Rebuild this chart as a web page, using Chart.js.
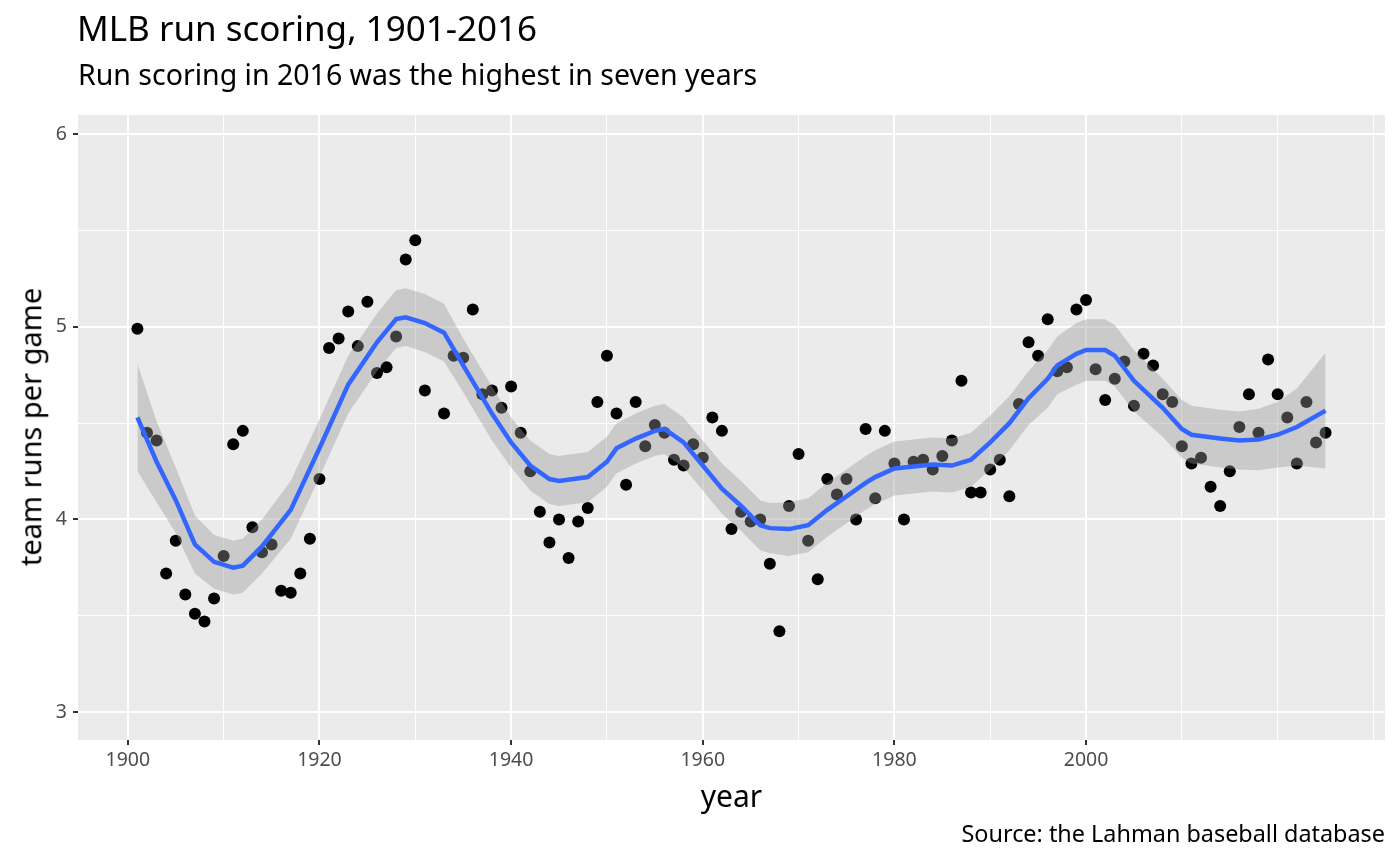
<!DOCTYPE html>
<html><head><meta charset="utf-8">
<script src="https://cdn.jsdelivr.net/npm/chart.js@4"></script>
<style>
body{margin:0;background:#fff;font-family:"Noto Sans",sans-serif;}
#wrap{position:relative;width:1400px;height:865px;}
canvas{position:absolute;left:0;top:0;}
.t{position:absolute;white-space:nowrap;color:#000;line-height:1.36;}
</style></head><body>
<div id="wrap">
<canvas id="c" width="1400" height="865"></canvas>
<div class="t" style="left:77px;top:4px;font-size:35px;">MLB run scoring, 1901-2016</div>
<div class="t" style="left:78px;top:55px;font-size:28.5px;">Run scoring in 2016 was the highest in seven years</div>
<div class="t" style="left:78px;top:776px;width:1307px;text-align:center;font-size:30px;">year</div>
<div class="t" style="left:30px;top:427px;font-size:29px;transform:translate(-50%,-50%) rotate(-90deg);">team runs per game</div>
<div class="t" style="right:15px;top:818px;font-size:23.4px;">Source: the Lahman baseball database</div>
</div>
<script>
const years = [1901,1902,1903,1904,1905,1906,1907,1908,1909,1910,1911,1912,1913,1914,1915,1916,1917,1918,1919,1920,1921,1922,1923,1924,1925,1926,1927,1928,1929,1930,1931,1933,1934,1935,1936,1937,1938,1939,1940,1941,1942,1943,1944,1945,1946,1947,1948,1949,1950,1951,1952,1953,1954,1955,1956,1957,1958,1959,1960,1961,1962,1963,1964,1965,1966,1967,1968,1969,1970,1971,1972,1973,1974,1975,1976,1977,1978,1979,1980,1981,1982,1983,1984,1985,1986,1987,1988,1989,1990,1991,1992,1993,1994,1995,1996,1997,1998,1999,2000,2001,2002,2003,2004,2005,2006,2007,2008,2009,2010,2011,2012,2013,2014,2015,2016,2017,2018,2019,2020,2021,2022,2023,2024,2025];
const runs = [4.99,4.45,4.41,3.72,3.89,3.61,3.51,3.47,3.59,3.81,4.39,4.46,3.96,3.83,3.87,3.63,3.62,3.72,3.90,4.21,4.89,4.94,5.08,4.90,5.13,4.76,4.79,4.95,5.35,5.45,4.67,4.55,4.85,4.84,5.09,4.65,4.67,4.58,4.69,4.45,4.25,4.04,3.88,4.00,3.80,3.99,4.06,4.61,4.85,4.55,4.18,4.61,4.38,4.49,4.45,4.31,4.28,4.39,4.32,4.53,4.46,3.95,4.04,3.99,4.00,3.77,3.42,4.07,4.34,3.89,3.69,4.21,4.13,4.21,4.00,4.47,4.11,4.46,4.29,4.00,4.30,4.31,4.26,4.33,4.41,4.72,4.14,4.14,4.26,4.31,4.12,4.60,4.92,4.85,5.04,4.77,4.79,5.09,5.14,4.78,4.62,4.73,4.82,4.59,4.86,4.80,4.65,4.61,4.38,4.29,4.32,4.17,4.07,4.25,4.48,4.65,4.45,4.83,4.65,4.53,4.29,4.61,4.40,4.45];
const smoothYears = [1901,1903,1905,1907,1909,1911,1912,1914,1917,1920,1923,1926,1928,1929,1931,1933,1935,1938,1940,1942,1944,1945,1948,1950,1951,1953,1955,1956,1958,1960,1962,1964,1966,1967,1969,1971,1973,1975,1977,1978,1980,1982,1984,1986,1988,1990,1992,1994,1996,1997,1999,2000,2002,2003,2005,2008,2010,2011,2014,2016,2018,2020,2022,2025];
const smoothFit = [4.53,4.30,4.10,3.87,3.78,3.75,3.76,3.86,4.05,4.37,4.70,4.92,5.04,5.05,5.02,4.97,4.80,4.55,4.40,4.28,4.21,4.20,4.22,4.30,4.37,4.42,4.46,4.47,4.40,4.28,4.16,4.07,3.97,3.955,3.95,3.97,4.05,4.12,4.19,4.22,4.265,4.275,4.285,4.28,4.31,4.40,4.50,4.63,4.73,4.80,4.86,4.88,4.88,4.85,4.72,4.58,4.47,4.44,4.42,4.41,4.415,4.44,4.48,4.565];
const smoothUpper = [4.81,4.51,4.27,4.02,3.92,3.89,3.90,4.00,4.20,4.52,4.85,5.07,5.19,5.20,5.17,5.12,4.94,4.69,4.53,4.41,4.34,4.33,4.35,4.43,4.50,4.55,4.59,4.60,4.53,4.41,4.29,4.20,4.10,4.085,4.09,4.11,4.19,4.26,4.33,4.36,4.405,4.415,4.425,4.42,4.45,4.54,4.64,4.77,4.88,4.95,5.02,5.04,5.04,5.01,4.88,4.73,4.62,4.59,4.57,4.56,4.575,4.61,4.68,4.865];
const smoothLower = [4.25,4.09,3.93,3.72,3.64,3.61,3.62,3.72,3.90,4.22,4.55,4.77,4.89,4.90,4.87,4.82,4.66,4.41,4.27,4.15,4.08,4.07,4.09,4.17,4.24,4.29,4.33,4.34,4.27,4.15,4.03,3.94,3.84,3.825,3.81,3.83,3.91,3.98,4.05,4.08,4.125,4.135,4.145,4.14,4.17,4.26,4.36,4.49,4.58,4.65,4.70,4.72,4.72,4.69,4.56,4.43,4.32,4.29,4.27,4.26,4.255,4.27,4.28,4.265];
const xTicks = [1900,1910,1920,1930,1940,1950,1960,1970,1980,1990,2000,2010,2020,2030];
const xLabels = [1900,1920,1940,1960,1980,2000];
const yTicks = [3,3.5,4,4.5,5,5.5,6];
const yLabels = [3,4,5,6];

const pts = (xs, ys) => xs.map((x,i)=>({x:x,y:ys[i]}));
const bg = {id:'bg',beforeDraw(c){const a=c.chartArea,g=c.ctx;g.save();g.fillStyle='#EBEBEB';g.fillRect(a.left,a.top,a.right-a.left,a.bottom-a.top);g.restore();}};
const isMajX = v => xLabels.includes(v), isMajY = v => yLabels.includes(v);
new Chart(document.getElementById('c'),{
  type:'scatter',
  data:{datasets:[
    {label:'fit',type:'line',data:pts(smoothYears,smoothFit),borderColor:'#3366FF',borderWidth:4.5,pointRadius:0,fill:false,order:0,tension:0},
    {label:'upper',type:'line',data:pts(smoothYears,smoothUpper),borderWidth:0,borderColor:'rgba(0,0,0,0)',pointRadius:0,backgroundColor:'rgba(153,153,153,0.4)',fill:'+1',order:1,tension:0},
    {label:'lower',type:'line',data:pts(smoothYears,smoothLower),borderWidth:0,borderColor:'rgba(0,0,0,0)',pointRadius:0,fill:false,order:1,tension:0},
    {label:'runs',data:pts(years,runs),backgroundColor:'#000',borderWidth:0,pointRadius:6,order:2}
  ]},
  options:{animation:false,responsive:false,devicePixelRatio:1,
    layout:{padding:{top:115,right:15,left:0,bottom:0}},
    plugins:{legend:{display:false},tooltip:{enabled:false}},
    scales:{
      x:{type:'linear',min:1894.8,max:2031.2,
        afterBuildTicks(s){s.ticks=xTicks.map(v=>({value:v}));},
        afterFit(s){s.height=125;},
        border:{display:false},
        grid:{color:'#fff',lineWidth:c=>isMajX(c.tick.value)?2:1,tickLength:5,tickColor:c=>isMajX(c.tick.value)?'#333':'rgba(0,0,0,0)'},
        ticks:{padding:4,color:'#4D4D4D',font:{family:'Noto Sans',size:19.5},maxRotation:0,autoSkip:false,callback:v=>isMajX(v)?String(v):''}},
      y:{type:'linear',min:2.855,max:6.1,
        afterBuildTicks(s){s.ticks=yTicks.map(v=>({value:v}));},
        afterFit(s){s.width=78;},
        border:{display:false},
        grid:{color:'#fff',lineWidth:c=>isMajY(c.tick.value)?2:1,tickLength:5,tickColor:c=>isMajY(c.tick.value)?'#333':'rgba(0,0,0,0)'},
        ticks:{padding:6,color:'#4D4D4D',font:{family:'Noto Sans',size:19.5},autoSkip:false,callback:v=>isMajY(v)?String(v):''}}
    }},
  plugins:[bg]
});
</script></body></html>
